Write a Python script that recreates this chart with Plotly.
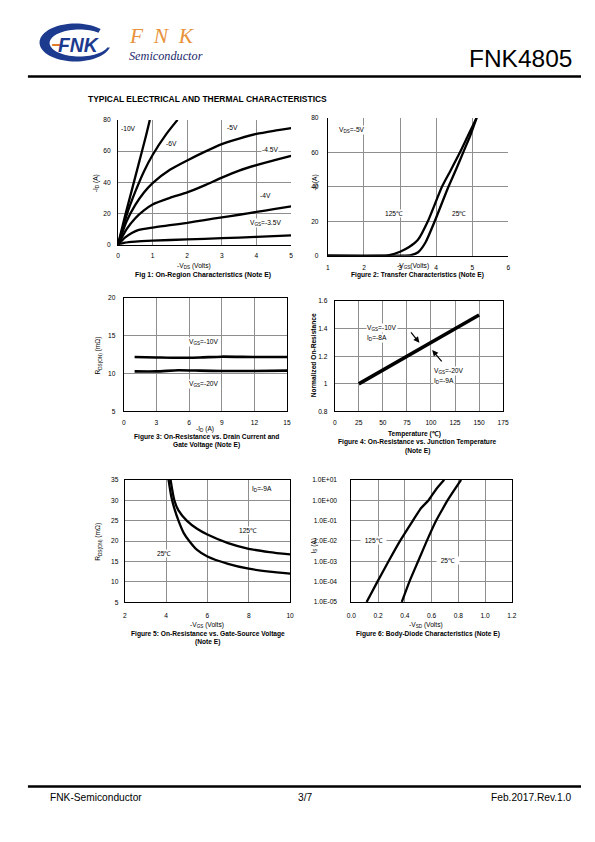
import math
import plotly.graph_objects as go

# page is 595x842; the figure is drawn 579x826 inside the 8px body margin.
# SX/BX and SY/BY correct the small scale/offset seen in the rendered picture.
PW, PH = 595, 842
OX, OY = 8, 8
FW, FH = PW - 2 * OX, PH - 2 * OY
SX, BX = 0.973, 7.4
SY, BY = 0.993, 3.5
FS = 1.02
F = "Liberation Sans"
GRID = "#8f8f8f"

# ---------------- data ----------------
# Fig 1: On-region characteristics  (-VDS V, -ID A)
f1_vds_10 = [0, 0.2, 0.4, 0.6, 0.8, 0.92]
f1_id_10 = [0, 18, 35, 52, 69, 80]
f1_vds_6 = [0, 0.25, 0.5, 0.75, 1.0, 1.4, 1.72]
f1_id_6 = [0, 19, 34, 47, 57.5, 71, 80]
f1_vds_5 = [0, 0.25, 0.5, 0.75, 1, 1.5, 2, 2.5, 3, 3.5, 4, 4.5, 5]
f1_id_5 = [0, 15, 25.5, 33.5, 39.5, 48, 54, 59.5, 64.5, 68, 71, 73, 74.7]
f1_id_45 = [0, 10, 17, 22, 25.8, 30, 33.5, 38, 43, 47.5, 51, 54, 57]
f1_vds_4 = [0, 0.2, 0.4, 0.6, 1, 1.5, 2, 2.5, 3, 3.5, 4, 4.5, 5]
f1_id_4 = [0, 4.5, 7.5, 9.5, 11, 12.5, 14, 15.8, 17.5, 19.2, 21, 22.8, 24.5]
f1_vds_35 = [0, 0.2, 0.5, 1, 2, 3, 4, 5]
f1_id_35 = [0, 1.3, 2.0, 2.6, 3.4, 4.2, 5.0, 6.0]

# Fig 2: Transfer characteristics (-VGS V, -ID A)
f2_vgs_125 = [1, 2.4, 2.7, 3.0, 3.25, 3.5, 3.77, 4.16, 4.4, 4.66, 4.9, 5.12]
f2_id_125 = [0, 0, 0.4, 2.3, 5, 9.4, 20, 40, 49.5, 60, 70.5, 80]
f2_vgs_25 = [1, 3.0, 3.3, 3.5, 3.7, 3.96, 4.32, 4.55, 4.75, 4.95, 5.12]
f2_id_25 = [0, 0, 0.3, 2, 7.5, 20, 39, 50, 60, 70, 80]

# Fig 3: RDS(ON) vs -ID (mOhm)
f3_id = [1, 3, 5, 7, 9, 12, 15]
f3_r_10 = [12.2, 12.15, 12.1, 12.15, 12.25, 12.2, 12.2]
f3_r_20 = [10.3, 10.3, 10.45, 10.4, 10.35, 10.35, 10.4]

# Fig 4: normalized on-resistance vs temperature
f4_t = [25, 50, 75, 100, 125, 150]
f4_r = [1.0, 1.1, 1.2, 1.3, 1.4, 1.5]

# Fig 5: RDS(ON) vs -VGS
f5_vgs_25 = [4.12, 4.25, 4.4, 4.6, 4.85, 5.12, 5.5, 6, 7, 8, 9, 10]
f5_r_25 = [35, 31, 28, 25, 22, 20, 17.8, 16.2, 14.4, 13.2, 12.5, 12.0]
f5_vgs_125 = [4.22, 4.3, 4.4, 4.6, 5.0, 5.5, 6, 7, 8, 9, 10]
f5_r_125 = [35, 32.5, 30, 27.5, 25, 23, 21.6, 19.5, 18.1, 17.3, 16.7]

# Fig 6: body diode (-VSD V, IS A)
f6_v_125 = [0.114, 0.195, 0.278, 0.364, 0.46, 0.52, 0.577, 0.63, 0.694]
f6_i_125 = [1e-5, 1e-4, 1e-3, 1e-2, 1e-1, 0.4, 1.0, 3.2, 10]
f6_v_25 = [0.377, 0.434, 0.499, 0.564, 0.634, 0.68, 0.72, 0.77, 0.82]
f6_i_25 = [1e-5, 1e-4, 1e-3, 1e-2, 1e-1, 0.35, 1.0, 3.2, 10]
f6_ytick_vals = [1e-5, 1e-4, 1e-3, 1e-2, 1e-1, 1e0, 1e1]
f6_ytick_text = ["1.0E-05", "1.0E-04", "1.0E-03", "1.0E-02", "1.0E-01", "1.0E+00", "1.0E+01"]

# ---------------- helpers ----------------
def px2x(p):
    return ((p - BX) / SX - OX) / FW

def px2y(p):
    return 1 - ((p - BY) / SY - OY) / FH

def dom_x(a, b):
    return [px2x(a), px2x(b)]

def dom_y(top, bottom):
    return [px2y(bottom), px2y(top)]

fig = go.Figure()

def line(xs, ys, ax, width=2.3, shape="spline"):
    fig.add_trace(go.Scatter(
        x=xs, y=ys, mode="lines",
        line=dict(color="black", width=width, shape=shape, smoothing=0.6),
        xaxis="x" + ax, yaxis="y" + ax, showlegend=False, hoverinfo="skip"))

TF = dict(family=F, size=6.5 * FS, color="black")

def axis(dom, rng, dtick, anchor, mirror, standoff=3, **kw):
    d = dict(domain=dom, range=rng, anchor=anchor, showgrid=True,
             gridcolor=GRID, gridwidth=1, zeroline=False, showline=True,
             linecolor="black", linewidth=1, mirror=mirror, ticks="",
             tickfont=TF, fixedrange=True, ticklabelstandoff=standoff)
    if dtick is not None:
        d["dtick"] = dtick
        d["tick0"] = rng[0]
    d.update(kw)
    return d

annotations = []
shapes = []

def txt(px, py, s, size=6.5, xanchor="center", angle=0, color="black",
        family=F, bg=None):
    a = dict(x=px2x(px), y=px2y(py), xref="paper", yref="paper", text=s,
             showarrow=False, xanchor=xanchor, yanchor="middle",
             textangle=angle,
             font=dict(family=family, size=size * FS, color=color))
    if bg:
        a["bgcolor"] = bg
    annotations.append(a)

def lab(x, y, s, ax, xanchor="center", bg="white", size=6.5):
    a = dict(x=x, y=y, xref="x" + ax, yref="y" + ax, text=s, showarrow=False,
             xanchor=xanchor, yanchor="middle",
             font=dict(family=F, size=size * FS, color="black"), borderpad=0)
    if bg:
        a["bgcolor"] = bg
    annotations.append(a)

# ---------------- traces ----------------
line(f1_vds_10, f1_id_10, "")
line(f1_vds_6, f1_id_6, "")
line(f1_vds_5, f1_id_5, "")
line(f1_vds_5, f1_id_45, "")
line(f1_vds_4, f1_id_4, "")
line(f1_vds_35, f1_id_35, "")

line(f2_vgs_125, f2_id_125, "2")
line(f2_vgs_25, f2_id_25, "2")

line(f3_id, f3_r_10, "3", width=2.6)
line(f3_id, f3_r_20, "3", width=2.6)

line(f4_t, f4_r, "4", width=3.5, shape="linear")

line(f5_vgs_25, f5_r_25, "5")
line(f5_vgs_125, f5_r_125, "5")

line(f6_v_125, f6_i_125, "6")
line(f6_v_25, f6_i_25, "6")

# ---------------- axes ----------------
layout_axes = dict(
    xaxis=axis(dom_x(119.3, 291), [0, 5], 1, "y", False, standoff=4),
    yaxis=axis(dom_y(119.5, 244.5), [0, 80], 20, "x", False, standoff=5),
    xaxis2=axis(dom_x(327.5, 506.5), [1, 6], 1, "y2", False, standoff=5),
    yaxis2=axis(dom_y(117.5, 255.5), [0, 80], 20, "x2", False, standoff=7),
    xaxis3=axis(dom_x(125, 287), [0, 15], 3, "y3", True, standoff=5),
    yaxis3=axis(dom_y(298, 411.5), [5, 20], 5, "x3", True, standoff=6),
    xaxis4=axis(dom_x(334.3, 501.3), [0, 175], 25, "y4", True, standoff=5),
    yaxis4=axis(dom_y(301, 411.5), [0.8, 1.6], 0.2, "x4", True, standoff=5),
    xaxis5=axis(dom_x(126, 290), [2, 10], 2, "y5", True, standoff=7),
    yaxis5=axis(dom_y(480, 602.5), [5, 35], 5, "x5", True, standoff=4),
    xaxis6=axis(dom_x(350.8, 510), [0, 1.2], 0.2, "y6", True, standoff=7,
                tickformat=".1f"),
    yaxis6=axis(dom_y(480, 602.3), [-5, 1], None, "x6", True, standoff=12,
                type="log", tickvals=f6_ytick_vals, ticktext=f6_ytick_text),
)

# ---------------- in-plot labels ----------------
lab(0.31, 74.6, "-10V", "")
lab(1.56, 65, "-6V", "")
lab(3.31, 75.2, "-5V", "")
lab(4.39, 61.1, "-4.5V", "")
lab(4.27, 31.7, "-4V", "")
lab(4.27, 13.8, "V<sub>GS</sub>=-3.5V", "")

lab(1.68, 72.8, "V<sub>DS</sub>=-5V", "2")
lab(2.83, 24.6, "125℃", "2")
lab(4.645, 24.6, "25℃", "2")

lab(7.4, 14.2, "V<sub>GS</sub>=-10V", "3")
lab(7.4, 8.63, "V<sub>GS</sub>=-20V", "3")

lab(32.2, 1.405, "V<sub>GS</sub>=-10V", "4", xanchor="left")
lab(32.2, 1.335, "I<sub>D</sub>=-8A", "4", xanchor="left")
lab(102, 1.093, "V<sub>GS</sub>=-20V", "4", xanchor="left")
lab(102, 1.023, "I<sub>D</sub>=-9A", "4", xanchor="left")
annotations.append(dict(x=88, y=1.298, ax=78, ay=1.385, xref="x4", yref="y4",
                        axref="x4", ayref="y4", text="", showarrow=True,
                        arrowhead=2, arrowsize=1, arrowwidth=1.2,
                        arrowcolor="black"))
annotations.append(dict(x=101.3, y=1.245, ax=112.5, ay=1.153, xref="x4",
                        yref="y4", axref="x4", ayref="y4", text="",
                        showarrow=True, arrowhead=2, arrowsize=1,
                        arrowwidth=1.2, arrowcolor="black"))

lab(8.63, 32.8, "I<sub>D</sub>=-9A", "5")
lab(7.95, 22.5, "125℃", "5")
lab(3.9, 16.9, "25℃", "5")

lab(0.167, -2.0, "  125℃  ", "6")
lab(0.725, -2.95, "  25℃  ", "6")

# ---------------- axis titles & captions ----------------
txt(97.5, 183, "-I<sub>D</sub> (A)", angle=-90)
txt(195, 265.5, "-V<sub>DS</sub> (Volts)")
txt(204, 275, "<b>Fig 1: On-Region Characteristics (Note E)</b>", size=6.8)

txt(315, 182, "-I<sub>D</sub>(A)", angle=-90)
txt(412, 266, "-V<sub>GS</sub>(Volts)")
txt(416, 275, "<b>Figure 2: Transfer Characteristics (Note E)</b>")

txt(100, 356, "R<sub>DS(ON)</sub> (mΩ)", angle=-90)
txt(206, 429.5, "-I<sub>D</sub> (A)")
txt(207, 437, "<b>Figure 3: On-Resistance vs. Drain Current and</b>")
txt(207, 445.5, "<b>Gate Voltage (Note E)</b>")

txt(313, 355, "<b>Normalized On-Resistance</b>", angle=-90)
txt(413, 434, "<b>Temperature (℃)</b>")
txt(416, 442.5, "<b>Figure 4: On-Resistance vs. Junction Temperature</b>")
txt(416, 451, "<b>(Note E)</b>")

txt(99.5, 542, "R<sub>DS(ON)</sub> (mΩ)", angle=-90)
txt(208, 625, "-V<sub>GS</sub> (Volts)")
txt(208.5, 634, "<b>Figure 5: On-Resistance vs. Gate-Source Voltage</b>")
txt(208.5, 642.5, "<b>(Note E)</b>")

txt(313.5, 546, "I<sub>S</sub> (A)", angle=-90)
txt(425, 625, "-V<sub>SD</sub> (Volts)")
txt(427, 634, "<b>Figure 6: Body-Diode Characteristics (Note E)</b>")

# ---------------- page header / footer ----------------
txt(572, 58, "FNK4805", size=24, xanchor="right")
txt(88, 99, "<b>TYPICAL ELECTRICAL AND THERMAL CHARACTERISTICS</b>",
    size=8.3, xanchor="left")
txt(50, 798, "FNK-Semiconductor", size=10, xanchor="left")
txt(305, 798, "3/7", size=10)
txt(572, 798, "Feb.2017.Rev.1.0", size=10, xanchor="right")

for yy in (76, 787):
    shapes.append(dict(type="line", xref="paper", yref="paper",
                       x0=px2x(30), x1=min(1.0, px2x(580)),
                       y0=px2y(yy), y1=px2y(yy),
                       line=dict(color="black", width=2.5)))

# logo swoosh (crescent) in page pixels
def ell(cx, cy, rx, ry, a_deg):
    a = math.radians(a_deg)
    return cx + rx * math.cos(a), cy - ry * math.sin(a)

outer = [ell(77, 42, 35.5, 19, a) for a in range(45, 346, 5)]
inner = [ell(81, 42.5, 29.5, 13.5, a) for a in range(340, 49, -5)]
pts = outer + inner
path = "M " + " L ".join(f"{px2x(x):.5f},{px2y(y):.5f}" for x, y in pts) + " Z"
shapes.append(dict(type="path", xref="paper", yref="paper", path=path,
                   fillcolor="#1c3a8e", line=dict(width=0)))
txt(81, 44, "<b><i>FNK</i></b>", size=19, color="#1c3a8e", family=F)
shapes.append(dict(type="line", xref="paper", yref="paper",
                   x0=px2x(54), x1=px2x(62), y0=px2y(44.5), y1=px2y(44.5),
                   line=dict(color="#e07b28", width=2)))
txt(128, 35, "<i>F  N  K</i>", size=21, color="#e8923a",
    family="Liberation Serif", xanchor="left")
txt(128, 56, "<i>Semiconductor</i>", size=12, color="#1b2a6b",
    family="Liberation Serif", xanchor="left")

fig.update_layout(
    width=FW, height=FH, margin=dict(l=0, r=0, t=0, b=0),
    paper_bgcolor="white", plot_bgcolor="white",
    showlegend=False, annotations=annotations, shapes=shapes,
    **layout_axes)

fig.write_html("out.html")
